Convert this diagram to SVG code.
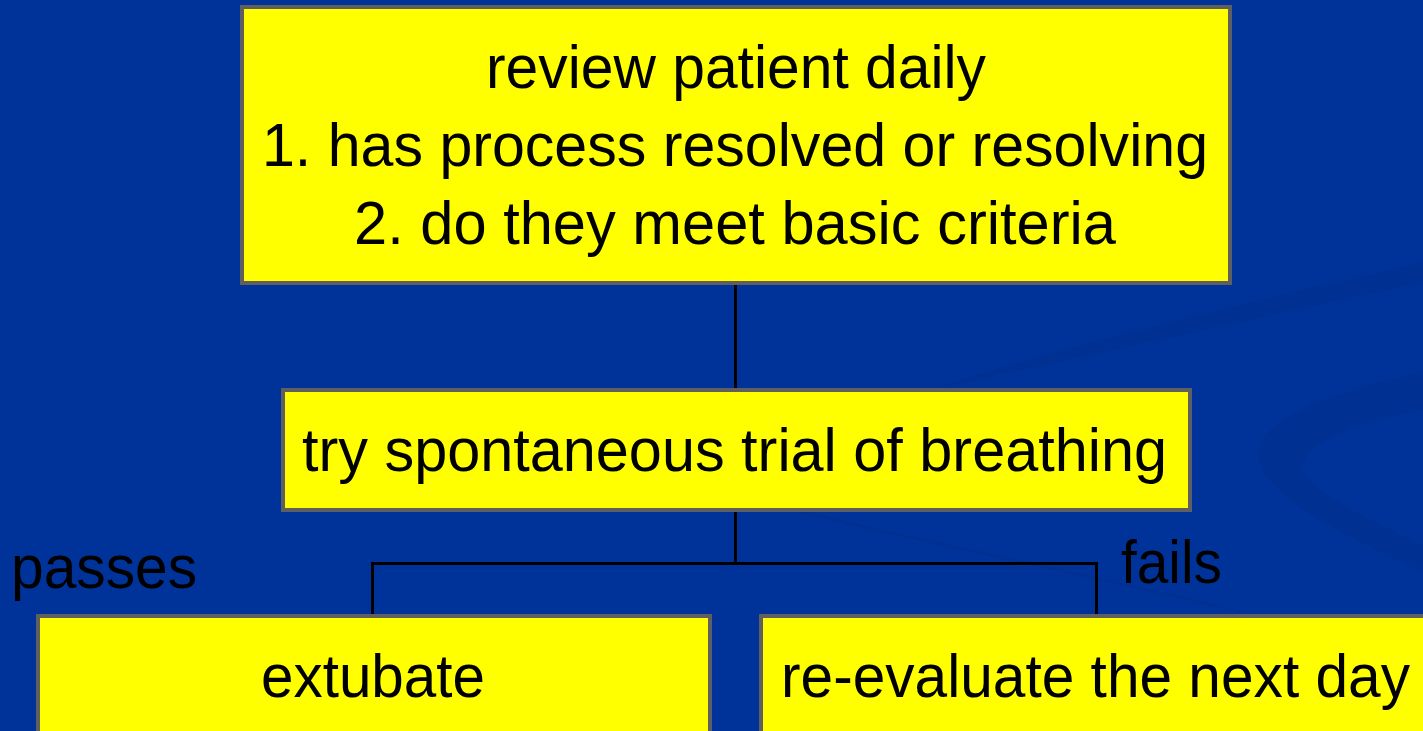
<svg xmlns="http://www.w3.org/2000/svg" width="1423" height="731" viewBox="0 0 1423 731">
  <style>
    .box { fill: #ffff00; stroke: #5f5f5f; stroke-width: 4; }
    .t { font-family: "Liberation Sans", Arial, sans-serif; font-size: 62px; fill: #000000; text-anchor: middle; }
    .lbl { font-family: "Liberation Sans", Arial, sans-serif; font-size: 62px; fill: #000000; }
    .conn { stroke: #000000; stroke-width: 3; fill: none; }
    .sw { fill: #002f8f; opacity: 0.7; }
  </style>
  <rect x="0" y="0" width="1423" height="731" fill="#003399"/>
  <g id="background">
    <path class="sw" d="M930,390 C1080,340 1260,300 1423,262 L1423,282 C1260,318 1090,355 930,390 Z"/>
    <path class="sw" d="M1423,372 C1340,390 1265,415 1258,450 C1255,490 1330,530 1423,572 L1423,545 C1350,510 1300,485 1303,465 C1310,440 1360,420 1423,410 Z"/>
    <path d="M760,500 C900,540 1100,575 1240,612" stroke="#002f8f" stroke-width="3" fill="none" opacity="0.7"/>
  </g>
  <g id="connectors">
    <line class="conn" x1="735.5" y1="285" x2="735.5" y2="389"/>
    <line class="conn" x1="735.5" y1="511" x2="735.5" y2="563"/>
    <polyline class="conn" points="372.5,615 372.5,563.5 1096.5,563.5 1096.5,615"/>
  </g>
  <g id="node-review">
    <rect class="box" x="242" y="7" width="988" height="276"/>
    <text class="t" x="736" y="88" textLength="500" lengthAdjust="spacingAndGlyphs">review patient daily</text>
    <text class="t" x="735" y="166" textLength="946" lengthAdjust="spacingAndGlyphs">1. has process resolved or resolving</text>
    <text class="t" x="735" y="244" textLength="762" lengthAdjust="spacingAndGlyphs">2. do they meet basic criteria</text>
  </g>
  <g id="node-trial">
    <rect class="box" x="283" y="390" width="907" height="120"/>
    <text class="t" x="734.5" y="471" textLength="865" lengthAdjust="spacingAndGlyphs">try spontaneous trial of breathing</text>
  </g>
  <g id="node-extubate">
    <rect class="box" x="38" y="616" width="672" height="130"/>
    <text class="t" x="373" y="697" textLength="224" lengthAdjust="spacingAndGlyphs">extubate</text>
  </g>
  <g id="node-reevaluate">
    <rect class="box" x="761" y="616" width="680" height="130"/>
    <text class="t" x="1095.5" y="697" textLength="629" lengthAdjust="spacingAndGlyphs">re-evaluate the next day</text>
  </g>
  <g id="label-passes">
    <text class="lbl" x="11" y="588" textLength="186" lengthAdjust="spacingAndGlyphs">passes</text>
  </g>
  <g id="label-fails">
    <text class="lbl" x="1121" y="583" textLength="101" lengthAdjust="spacingAndGlyphs">fails</text>
  </g>
</svg>
